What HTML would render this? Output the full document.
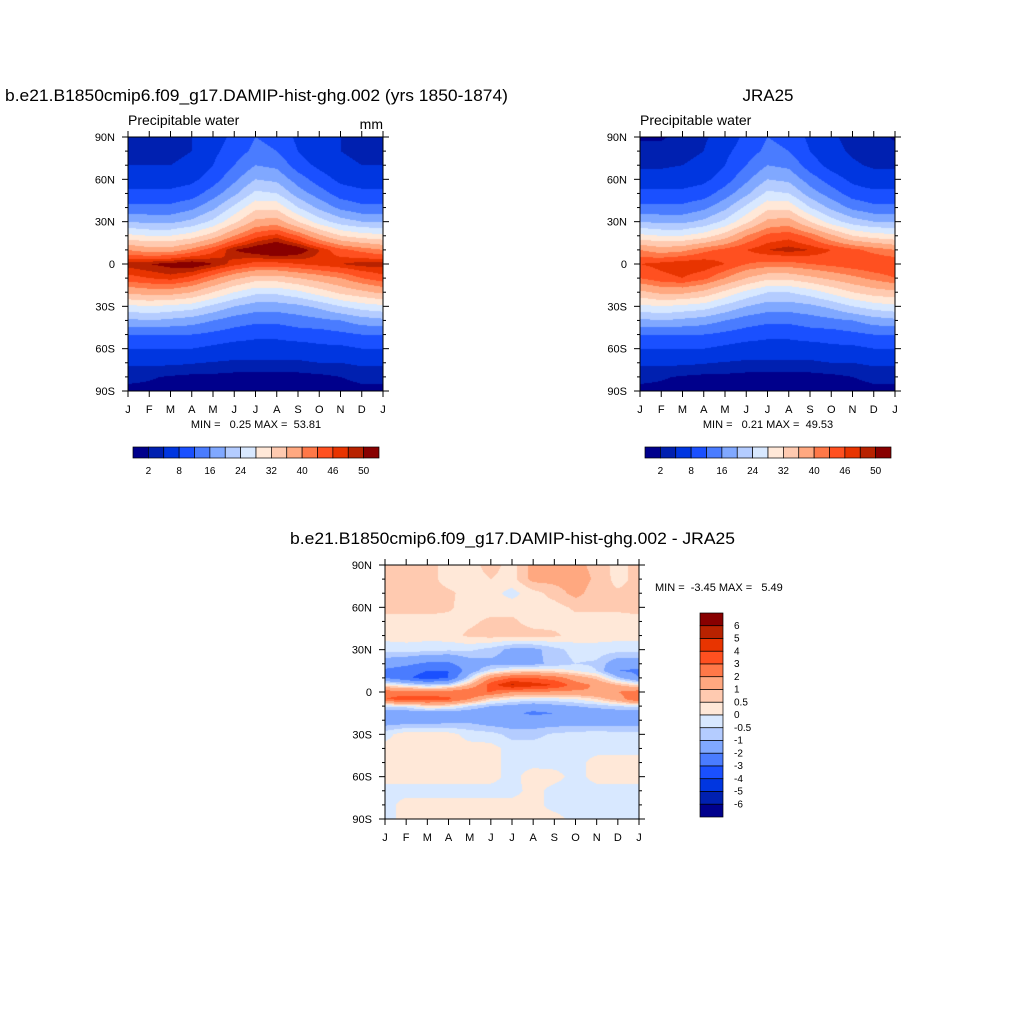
<!DOCTYPE html>
<html><head><meta charset="utf-8"><style>
html,body{margin:0;padding:0;background:#fff;}
#wrap{position:relative;width:1024px;height:1024px;overflow:hidden;font-family:"Liberation Sans",sans-serif;}
canvas{position:absolute;}
svg{position:absolute;left:0;top:0;}
text{font-family:"Liberation Sans",sans-serif;fill:#000;white-space:pre;}
</style></head><body>
<div id="wrap">
<canvas id="c1" width="255" height="254" style="left:128px;top:137px"></canvas>
<canvas id="c2" width="255" height="254" style="left:640px;top:137px"></canvas>
<canvas id="c3" width="254" height="254" style="left:385px;top:565px"></canvas>
<svg id="s" width="1024" height="1024">
<text x="5" y="101" font-size="17" textLength="503" lengthAdjust="spacingAndGlyphs">b.e21.B1850cmip6.f09_g17.DAMIP-hist-ghg.002 (yrs 1850-1874)</text>
<text x="768" y="101" font-size="17" text-anchor="middle">JRA25</text>
<text x="290" y="544" font-size="17" textLength="445" lengthAdjust="spacingAndGlyphs">b.e21.B1850cmip6.f09_g17.DAMIP-hist-ghg.002 - JRA25</text>
<text x="128" y="125" font-size="14">Precipitable water</text>
<text x="383" y="129" font-size="14" text-anchor="end">mm</text>
<text x="640" y="125" font-size="14">Precipitable water</text>
<text x="256" y="428" font-size="11" text-anchor="middle">MIN =   0.25 MAX =  53.81</text>
<text x="768" y="428" font-size="11" text-anchor="middle">MIN =   0.21 MAX =  49.53</text>
<text x="655" y="591" font-size="11">MIN =  -3.45 MAX =   5.49</text>
</svg>
</div>
<script>
const months = ["J","F","M","A","M","J","J","A","S","O","N","D","J"];
const latTicks = ["90N","60N","30N","0","30S","60S","90S"];
const absLevels = [2,4,8,12,16,20,24,28,32,36,40,43,46,48,50];
const absLabels = ["2","8","16","24","32","40","46","50"];
const diffLevels = [-6,-5,-4,-3,-2,-1,-0.5,0,0.5,1,2,3,4,5,6];
const diffLabels = ["6","5","4","3","2","1","0.5","0","-0.5","-1","-2","-3","-4","-5","-6"];
const palette = ["#00008c","#0020b0","#0036e0","#1a50ff","#4a7cff","#80a8ff","#b4ccff","#d8e8ff","#ffe8d8","#ffcab0","#ffa880","#ff7848","#ff5020","#e83400","#b82200","#880000"];
const lats10 = [90,80,70,60,50,40,30,20,10,0,-10,-20,-30,-40,-50,-60,-70,-80,-90];
const modelPW = [
[3,3,3,4,6,9,12,11,7,5,4,3,3],
[3,3,3,4,7,10,13,12,8,5,4,3,3],
[4,4,4,5,8,12,16,15,10,7,5,4,4],
[6,6,6,7,10,15,20,19,14,10,7,6,6],
[9,9,9,10,14,19,25,24,18,14,10,9,9],
[13,13,13,15,19,25,31,31,24,19,15,13,13],
[20,19,19,21,25,31,37,38,32,26,22,20,20],
[29,28,28,30,34,40,45,47,43,37,32,30,29],
[40,38,38,41,45,50,52,54,52,48,44,42,40],
[49,50,51,52,50,47,45,45,46,47,48,49,49],
[45,46,47,45,41,37,34,34,36,38,40,43,45],
[37,38,38,36,32,28,25,25,27,30,33,35,37],
[27,28,27,26,23,20,18,18,19,21,24,26,27],
[19,20,19,18,16,14,13,13,14,15,16,18,19],
[12,12,12,12,11,10,9,9,10,10,11,12,12],
[8,8,8,8,7,6,6,6,6,7,7,8,8],
[4.5,4.5,4.5,4.2,3.8,3.5,3.5,3.5,3.5,4,4,4.5,4.5],
[2.5,2.2,1.8,1.5,1.5,1.3,1.2,1.2,1.3,1.5,2,2.5,2.5],
[1.5,1.5,1.2,1,1,1,1,1,1,1,1.2,1.5,1.5]];
const jraPW = [
[1.8,1.8,2.5,3.5,5.5,9,12,11,7,4.5,3,2.5,1.8],
[2.5,2.5,3,4,7,10,13,12,8,5,3.5,2.8,2.5],
[3.5,3.5,4,5,8,12,16,15,10,6.5,4.5,3.5,3.5],
[5.5,5.5,6,7,10,15,20,19,14,10,7,5.5,5.5],
[9,9,9,10,14,19,25,24,18,14,10,9,9],
[13,13,13,15,19,25,31,31,24,19,15,13,13],
[20,19,19,21,25,31,37,38,32,26,22,20,20],
[29,28,28,30,34,40,44,45,42,37,32,30,29],
[40,38,39,42,44,46,48,49,48,46,44,42,40],
[46,47,48,48,46,43,42,42,43,44,45,46,46],
[43,45,46,44,40,36,33,33,35,37,39,41,43],
[35,37,37,35,31,27,24,24,26,29,32,34,35],
[27,28,27,26,23,20,18,18,19,21,24,26,27],
[19,20,19,18,16,14,13,13,14,15,16,18,19],
[12,12,12,12,11,10,9,9,10,10,11,12,12],
[8,8,8,8,7,6,6,6,6,7,7,8,8],
[4.5,4.5,4.5,4.2,3.8,3.5,3.5,3.5,3.5,4,4,4.5,4.5],
[2.5,2.2,1.8,1.5,1.5,1.3,1.2,1.2,1.3,1.5,2,2.5,2.5],
[1.5,1.5,1.2,1,1,1,1,1,1,1,1.2,1.5,1.5]];
const latsDiff = [90,80,70,60,50,40,30,20,15,10,5,0,-5,-10,-15,-20,-30,-40,-50,-60,-70,-80,-90];
const diffPW = [
[0.7,0.7,0.7,0.3,0.3,0.7,0.3,1.2,1.2,1.2,0.8,0.3,0.7],
[0.7,0.7,0.7,0.3,0.3,0.5,0.3,1.2,1.2,1.3,0.9,0.3,0.7],
[0.7,0.7,0.7,0.6,0.3,0.2,-0.2,0.3,0.7,1.2,0.7,0.6,0.7],
[0.7,0.7,0.7,0.6,0.2,0.3,0.3,0.3,0.3,0.6,0.6,0.6,0.7],
[0.3,0.3,0.3,0.3,0.4,0.6,0.6,0.3,0.3,0.3,0.3,0.3,0.3],
[0.2,0.2,0.2,0.3,0.6,0.7,0.7,0.7,0.6,0.3,0.2,0.2,0.2],
[-0.3,-0.2,-0.3,-0.4,-0.4,-0.7,-1.2,-1.2,-0.7,-0.3,-0.2,-0.3,-0.3],
[-1.5,-1.8,-2.2,-2.2,-1.4,-1.2,-1.3,-1.2,-0.8,-0.5,-0.6,-1.5,-1.5],
[-2.2,-2.5,-3.0,-3.0,-1.5,-0.3,0.3,0.5,0.3,0.0,-0.5,-2.0,-2.2],
[-2.0,-2.8,-3.5,-3.0,-0.5,2.0,3.0,3.0,2.5,1.5,0.8,-0.8,-2.0],
[0.3,-0.3,-0.8,-0.5,1.0,3.5,5.2,4.5,4.0,2.5,1.8,1.0,0.3],
[2.5,2.5,2.3,2.5,3.0,3.0,2.0,2.0,1.8,1.8,2.0,2.0,2.5],
[3.0,3.5,3.5,3.2,2.0,0.5,0.0,-0.2,-0.2,0.0,0.5,1.5,3.0],
[-0.3,-0.3,0.5,0.3,-0.5,-1.0,-1.2,-1.5,-1.2,-1.0,-0.8,-0.5,-0.3],
[-1.5,-1.5,-1.5,-1.5,-1.5,-1.8,-1.8,-2.2,-2.0,-1.5,-1.5,-1.5,-1.5],
[-1.5,-1.5,-1.5,-1.3,-1.2,-1.5,-1.5,-1.5,-1.5,-1.5,-1.5,-1.5,-1.5],
[-0.2,0.3,0.3,0.2,-0.2,-0.3,-0.7,-0.7,-0.4,-0.3,-0.2,-0.3,-0.3],
[0.2,0.3,0.2,0.2,0.2,0.2,-0.2,-0.2,-0.2,-0.2,-0.2,-0.2,-0.2],
[0.2,0.2,0.2,0.2,0.2,0.2,-0.2,-0.2,-0.2,-0.2,0.2,0.2,0.2],
[0.2,0.2,0.2,0.2,0.2,0.2,-0.2,0.3,0.2,-0.2,0.2,0.2,0.2],
[-0.2,-0.2,-0.2,-0.2,-0.2,-0.2,-0.2,0.2,-0.2,-0.2,-0.2,-0.2,-0.2],
[-0.2,0.2,0.2,0.2,0.2,0.2,0.2,0.2,-0.2,-0.2,-0.2,-0.2,-0.2],
[-0.2,0.2,0.2,0.2,0.2,0.2,0.2,0.2,0.2,-0.2,-0.2,-0.2,-0.2]];

function hex(c){return [parseInt(c.slice(1,3),16),parseInt(c.slice(3,5),16),parseInt(c.slice(5,7),16)];}
const palRGB = palette.map(hex);
function levelIndex(v, levels){let k=0;while(k<levels.length&&v>=levels[k])k++;return k;}
function sample(grid, lats, monthPos, lat){
  let i=0;while(i<lats.length-2&&lat<lats[i+1])i++;
  const t=(lats[i]-lat)/(lats[i]-lats[i+1]);
  let j=Math.floor(monthPos);if(j>11)j=11;const u=monthPos-j;
  const a=grid[i][j]*(1-u)+grid[i][j+1]*u;
  const b=grid[i+1][j]*(1-u)+grid[i+1][j+1]*u;
  return a*(1-t)+b*t;
}
function drawField(id, grid, lats, levels){
  const cv=document.getElementById(id),ctx=cv.getContext('2d');
  const W=cv.width,H=cv.height,img=ctx.createImageData(W,H);
  for(let y=0;y<H;y++){const lat=90-180*(y+0.5)/H;
    for(let x=0;x<W;x++){const m=12*(x+0.5)/W;
      const c=palRGB[levelIndex(sample(grid,lats,m,lat),levels)];
      const p=(y*W+x)*4;img.data[p]=c[0];img.data[p+1]=c[1];img.data[p+2]=c[2];img.data[p+3]=255;}}
  ctx.putImageData(img,0,0);
}
drawField('c1',modelPW,lats10,absLevels);
drawField('c2',jraPW,lats10,absLevels);
drawField('c3',diffPW,latsDiff,diffLevels);

const NS="http://www.w3.org/2000/svg";const svg=document.getElementById('s');
function el(tag,attrs){const e=document.createElementNS(NS,tag);for(const k in attrs)e.setAttribute(k,attrs[k]);svg.appendChild(e);return e;}
function axes(x0,y0,W,H,prefix){
  const xs=m=>x0+W*m/12, ys=lat=>y0+H*(90-lat)/180;
  const fr=el('rect',{x:x0,y:y0,width:W,height:H,fill:'none',stroke:'#000','stroke-width':1});
  
  
  for(let m=0;m<=12;m++){
    const x=xs(m);
    const t1=el('line',{x1:x,y1:y0+H,x2:x,y2:y0+H+6,stroke:'#000'});
    
    
    const t2=el('line',{x1:x,y1:y0,x2:x,y2:y0-6,stroke:'#000'});
    
    
    const lb=el('text',{x:x,y:y0+H+22,'font-size':11,'text-anchor':'middle'});lb.textContent=months[m];
    
    
  }
  for(let lat=-90;lat<=90;lat+=10){
    const y=ys(lat),major=lat%30===0,len=major?6:3;
    const a=el('line',{x1:x0,y1:y,x2:x0-len,y2:y,stroke:'#000'});
    
    
    const b=el('line',{x1:x0+W,y1:y,x2:x0+W+len,y2:y,stroke:'#000'});
    
    
  }
  latTicks.forEach((s,k)=>{const y=ys(90-30*k);
    const lb=el('text',{x:x0-13,y:y+4,'font-size':11,'text-anchor':'end'});lb.textContent=s;
    
    });
}
axes(128,137,255,254,'model');
axes(640,137,255,254,'jra25');
axes(385,565,254,254,'difference');

function hbar(x0,y0,W,H,prefix){
  const bw=W/16;
  palette.forEach((c,k)=>{const r=el('rect',{x:x0+k*bw,y:y0,width:bw,height:H,fill:c,stroke:'#000','stroke-width':0.7});
    
    });
  absLabels.forEach((s,k)=>{const t=el('text',{x:x0+bw*(1+2*k),y:y0+H+16,'font-size':10,'text-anchor':'middle'});t.textContent=s;
    
    });
}
hbar(133,447,246,11,'model');
hbar(645,447,246,11,'jra25');
(function(){const x0=700,y0=613,W=23,H=204,bh=H/16;
  palette.slice().reverse().forEach((c,k)=>{const r=el('rect',{x:x0,y:y0+k*bh,width:W,height:bh,fill:c,stroke:'#000','stroke-width':0.7});
    
    });
  diffLabels.forEach((s,k)=>{const t=el('text',{x:x0+W+11,y:y0+bh*(k+1)+3,'font-size':10});t.textContent=s;
    
    });
})();
</script>
</body></html>
